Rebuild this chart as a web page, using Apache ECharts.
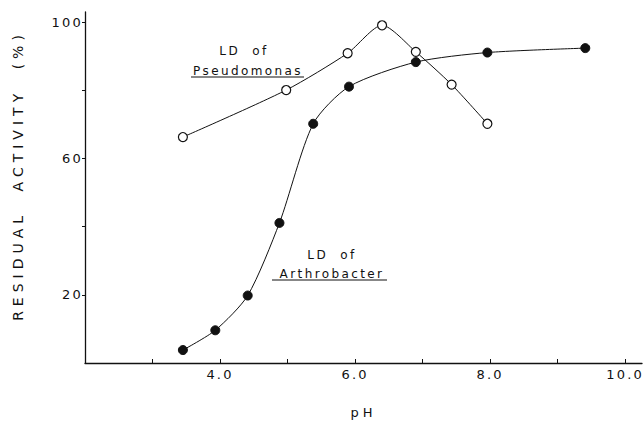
<!DOCTYPE html>
<html><head><meta charset="utf-8">
<script src="https://cdn.jsdelivr.net/npm/echarts@6/dist/echarts.min.js"></script>
<style>
html,body{margin:0;padding:0;background:#fff;}
#c{width:643px;height:421px;}
#c text[style*="Tkl"],#c text[font-family*="Tkl"]{letter-spacing:2.2px;}
#c text[style*="Phn"],#c text[font-family*="Phn"]{letter-spacing:4px;}
#c text[style*="Ynm"],#c text[font-family*="Ynm"]{letter-spacing:5px;word-spacing:10px;}
#c text[style*="Ann"],#c text[font-family*="Ann"]{letter-spacing:2.4px;word-spacing:6px;}
</style></head><body><div id="c"></div>
<script>
// Data
const pseudoPH  = [3.45, 4.98, 5.89, 6.40, 6.90, 7.43, 7.96];
const pseudoAct = [66.3, 80.1, 90.9, 99.1, 91.3, 81.7, 70.2];
const arthroPH  = [3.45, 3.93, 4.41, 4.88, 5.38, 5.91, 6.90, 7.96, 9.41];
const arthroAct = [3.8, 9.6, 19.8, 41.1, 70.2, 81.1, 88.3, 91.1, 92.4];
const xTickValues  = [3, 4, 5, 6, 7, 8, 9, 10];
const xLabelValues = [4, 6, 8, 10];
const yTickValues  = [20, 40, 60, 80, 100];
const yLabelValues = [20, 60, 100];

const chart = echarts.init(document.getElementById('c'), null, {renderer: 'svg'});
const ink = '#111';
const option = {
  animation: false,
  backgroundColor: '#fff',
  grid: {left: 85, right: 1, top: 12, bottom: 58, containLabel: false, outerBoundsMode: 'none'},
  xAxis: {
    type: 'value', min: 2, max: 10.25,
    name: 'pH', nameLocation: 'middle', nameGap: 43,
    nameTextStyle: {color: ink, fontSize: 13, fontFamily: 'Phn, DejaVu Sans'},
    axisLine: {show: true, lineStyle: {color: ink, width: 1.3}},
    axisTick: {show: true, inside: true, length: 4, customValues: xTickValues, lineStyle: {color: ink, width: 1}},
    axisLabel: {show: true, margin: 5, customValues: xLabelValues, color: ink, fontSize: 13,
      fontFamily: 'Tkl, DejaVu Sans', formatter: v => Number(v).toFixed(1)},
    splitLine: {show: false}
  },
  yAxis: {
    type: 'value', min: 0, max: 103,
    name: 'RESIDUAL ACTIVITY (%)', nameLocation: 'middle', nameGap: 60, nameRotate: 90,
    nameTextStyle: {color: ink, fontSize: 14, fontFamily: 'Ynm, DejaVu Sans', padding: [0, 0, 0, 24]},
    axisLine: {show: true, lineStyle: {color: ink, width: 1.3}},
    axisTick: {show: true, inside: false, length: 3, customValues: yTickValues, lineStyle: {color: ink, width: 1}},
    axisLabel: {show: true, margin: 2, customValues: yLabelValues, color: ink, fontSize: 13,
      fontFamily: 'Tkl, DejaVu Sans', formatter: v => String(v)},
    splitLine: {show: false}
  },
  series: [
    {
      name: 'LD of Pseudomonas', type: 'line', smooth: 0.25,
      data: pseudoPH.map((x, i) => [x, pseudoAct[i]]),
      symbol: 'circle', symbolSize: 9,
      lineStyle: {color: ink, width: 1},
      itemStyle: {color: '#fff', borderColor: ink, borderWidth: 1.2},
      z: 3
    },
    {
      name: 'LD of Arthrobacter', type: 'line', smooth: 0.25,
      data: arthroPH.map((x, i) => [x, arthroAct[i]]),
      symbol: 'circle', symbolSize: 9,
      lineStyle: {color: ink, width: 1},
      itemStyle: {color: ink, borderColor: ink, borderWidth: 1},
      z: 2
    }
  ],
  graphic: [
    {type: 'text', x: 244, y: 51, style: {text: 'LD of', fill: ink, fontSize: 12, fontFamily: 'Ann, DejaVu Sans', align: 'center', verticalAlign: 'middle', textAlign: 'center', textVerticalAlign: 'middle'}},
    {type: 'text', x: 248, y: 71, style: {text: 'Pseudomonas', fill: ink, fontSize: 12, fontFamily: 'Ann, DejaVu Sans', align: 'center', verticalAlign: 'middle', textAlign: 'center', textVerticalAlign: 'middle'}},
    {type: 'line', shape: {x1: 191, y1: 77, x2: 304, y2: 77}, style: {stroke: ink, lineWidth: 1.2}},
    {type: 'text', x: 332, y: 255, style: {text: 'LD of', fill: ink, fontSize: 12, fontFamily: 'Ann, DejaVu Sans', align: 'center', verticalAlign: 'middle', textAlign: 'center', textVerticalAlign: 'middle'}},
    {type: 'text', x: 332, y: 274, style: {text: 'Arthrobacter', fill: ink, fontSize: 12, fontFamily: 'Ann, DejaVu Sans', align: 'center', verticalAlign: 'middle', textAlign: 'center', textVerticalAlign: 'middle'}},
    {type: 'line', shape: {x1: 272, y1: 280, x2: 387, y2: 280}, style: {stroke: ink, lineWidth: 1.2}}
  ]
};
chart.setOption(option);
</script>
</body></html>
